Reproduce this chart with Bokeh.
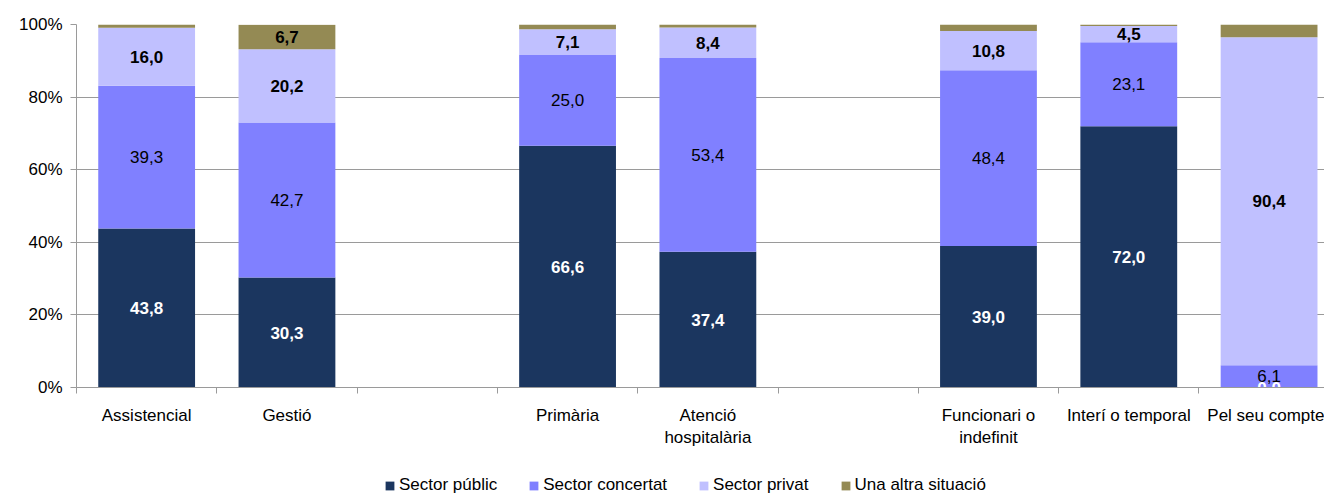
from bokeh.plotting import figure
from bokeh.layouts import column
from bokeh.models import Range1d, FixedTicker, Legend, LegendItem, ColumnDataSource
from bokeh.core.properties import value
from bokeh.embed import file_html
from bokeh.resources import INLINE

# ---- data ----
categories = ["Assistencial", "Gestió", "", "Primària", "Atenció\nhospitalària", "",
              "Funcionari o\nindefinit", "Interí o temporal", "Pel seu compte"]
groups = ["Assistencial", "Gestió", "Primària", "Atenció\nhospitalària",
          "Funcionari o\nindefinit", "Interí o temporal", "Pel seu compte"]
sector_public = [43.8, 30.3, 66.6, 37.4, 39.0, 72.0, 0.0]
sector_concertat = [39.3, 42.7, 25.0, 53.4, 48.4, 23.1, 6.1]
sector_privat = [16.0, 20.2, 7.1, 8.4, 10.8, 4.5, 90.4]
altra_situacio = [0.9, 6.7, 1.3, 0.8, 1.8, 0.4, 3.5]
series_names = ["Sector públic", "Sector concertat", "Sector privat", "Una altra situació"]
y_ticks = [0, 20, 40, 60, 80, 100]

colors = ["#1B365F", "#8080FF", "#C0C0FF", "#948A54"]
FONT = "Liberation Sans"
FS = "17px"

xs = [categories.index(g) + 1 for g in groups]

src = ColumnDataSource(dict(x=xs, pub=sector_public, con=sector_concertat,
                            pri=sector_privat, alt=altra_situacio))

p = figure(frame_width=1248, frame_height=363, output_backend="svg", toolbar_location=None,
           x_range=Range1d(0.5, 0.5 + 8.895), y_range=Range1d(0, 100),
           min_border_left=76, min_border_right=0, min_border_top=24, min_border_bottom=88)
p.outline_line_color = None
p.background_fill_color = "white"

rs = p.vbar_stack(["pub", "con", "pri", "alt"], x="x", width=0.69, source=src,
                  color=colors, line_color=None)

# labels
def fmt(v):
    return f"{v:.1f}".replace(".", ",")

lab_x, lab_y, lab_t, lab_c, lab_w = [], [], [], [], []
for i, x in enumerate(xs):
    b0 = 0
    vals = [sector_public[i], sector_concertat[i], sector_privat[i], altra_situacio[i]]
    for k, v in enumerate(vals):
        c = b0 + v / 2
        b0 += v
        if k == 3 and v < 5:
            continue
        lab_x.append(x)
        lab_y.append(c)
        lab_t.append(fmt(v))
        lab_c.append("white" if k == 0 else "black")
        lab_w.append("normal" if k == 1 else "bold")

lsrc = ColumnDataSource(dict(x=lab_x, y=lab_y, t=lab_t, c=lab_c, w=lab_w))
p.text(x="x", y="y", text="t", source=lsrc, text_color="c", text_font_style="w",
       text_font=value(FONT), text_font_size=FS, text_align="center",
       text_baseline="middle")

# y axis
p.yaxis.ticker = FixedTicker(ticks=y_ticks)
p.yaxis.major_label_overrides = {t: f"{t}%" for t in y_ticks}
p.yaxis.major_label_text_font = FONT
p.yaxis.major_label_text_font_size = FS
p.yaxis.major_label_text_color = "black"
p.yaxis.axis_line_color = "#9A9A9A"
p.yaxis.major_tick_line_color = "#9A9A9A"
p.yaxis.major_tick_out = 6
p.yaxis.major_tick_in = 0
p.yaxis.minor_tick_line_color = None
p.yaxis.major_label_standoff = 8

# x axis
centers = list(range(1, len(categories) + 1))
bounds = [c + 0.5 for c in range(0, len(categories) + 1)]
p.xaxis.ticker = FixedTicker(ticks=centers, minor_ticks=bounds)
p.xaxis.major_label_overrides = {c: lab for c, lab in zip(centers, categories)}
p.xaxis.major_label_text_font = FONT
p.xaxis.major_label_text_font_size = FS
p.xaxis.major_label_text_color = "black"
p.xaxis.axis_line_color = "#9A9A9A"
p.xaxis.major_tick_line_color = None
p.xaxis.minor_tick_line_color = "#9A9A9A"
p.xaxis.minor_tick_out = 6
p.xaxis.minor_tick_in = 0
p.xaxis.major_label_standoff = 12

p.xgrid.grid_line_color = None
p.ygrid.grid_line_color = "#9A9A9A"
p.ygrid.ticker = FixedTicker(ticks=y_ticks)

# legend strip below the chart (swatch renderers lie outside its visible range)
pl = figure(frame_width=1324, frame_height=20, output_backend="svg", toolbar_location=None,
            x_range=Range1d(0, 1), y_range=Range1d(0, 1),
            min_border_left=0, min_border_right=0, min_border_top=0, min_border_bottom=0)
pl.outline_line_color = None
pl.axis.visible = False
pl.grid.visible = False
swatches = [pl.quad(left=[5], right=[6], top=[6], bottom=[5], fill_color=c, line_color=None)
            for c in colors]
legend = Legend(items=[LegendItem(label=n, renderers=[r]) for n, r in zip(series_names, swatches)],
                orientation="horizontal", location=(384, 0),
                label_text_font=FONT, label_text_font_size=FS, label_text_color="black",
                label_height=20, glyph_width=11, glyph_height=11, label_standoff=4, spacing=31,
                padding=0, margin=0, border_line_color=None, background_fill_alpha=0)
pl.add_layout(legend, "center")

layout = column(p, pl, spacing=0)
open("out.html", "w").write(file_html(layout, INLINE))
